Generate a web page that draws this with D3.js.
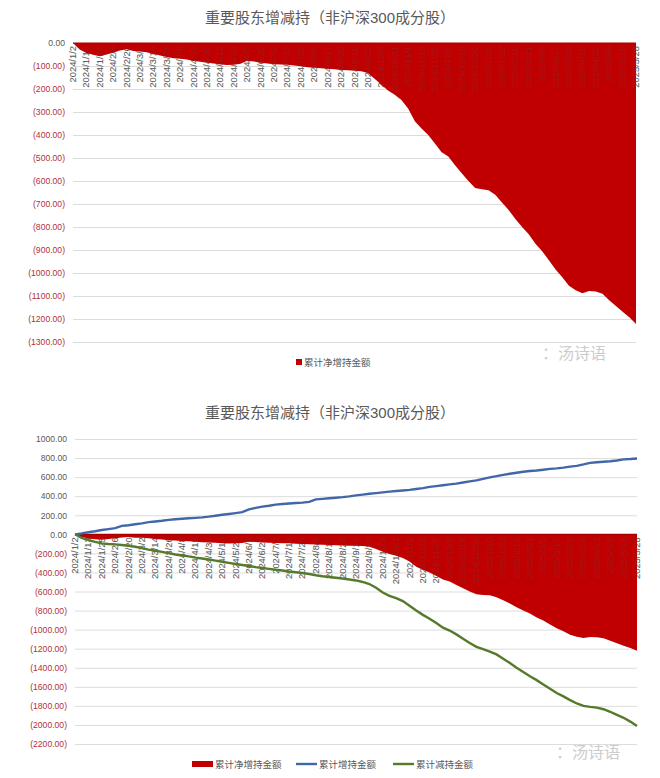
<!DOCTYPE html>
<html>
<head>
<meta charset="utf-8">
<script src="https://cdn.jsdelivr.net/npm/d3@7"></script>
<style>
html,body{margin:0;padding:0;background:#fff;}
svg{display:block;font-family:"Liberation Sans","Noto Sans CJK SC",sans-serif;}
</style>
</head>
<body>
<div id="chart"></div>
<script>
const chartTitle = "重要股东增减持（非沪深300成分股）";
const seriesNames = ["累计净增持金额", "累计增持金额", "累计减持金额"];
const dateLabels = [
  "2024/1/2","2024/1/13","2024/1/25","2024/2/6","2024/2/20","2024/3/2","2024/3/14","2024/3/26",
  "2024/4/8","2024/4/19","2024/4/30","2024/5/13","2024/5/24","2024/6/5","2024/6/20","2024/7/2",
  "2024/7/13","2024/7/25","2024/8/6","2024/8/17","2024/8/29","2024/9/10","2024/9/23","2024/10/9",
  "2024/10/21","2024/11/1","2024/11/13","2024/11/25","2024/12/6","2024/12/18","2024/12/30","2025/1/10",
  "2025/1/22","2025/2/10","2025/2/21","2025/3/5","2025/3/17","2025/3/28","2025/4/10","2025/4/22",
  "2025/5/6","2025/5/16","2025/5/28"
];
// cumulative net increase (亿元), one value per half label step
const netValues = [
  0,-28,-44,-51,-58,-50,-42,-33,-27,-35,-37,-40,-48,-54,-61,-66,-69,-72,-78,-82,
  -86,-89,-93,-96,-95,-90,-77,-80,-86,-89,-92,-93,-95,-98,-101,-105,-108,-110,-112,-114,
  -117,-119,-121,-123,-130,-155,-182,-206,-225,-248,-285,-340,-372,-400,-437,-475,-494,-532,-566,-600,
  -630,-636,-640,-660,-693,-726,-765,-800,-832,-873,-905,-945,-985,-1018,-1055,-1075,-1088,-1078,-1080,-1090,
  -1118,-1143,-1168,-1192,-1222
];
const increaseValues = [
  0,10,22,32,45,55,65,88,95,105,115,128,135,142,152,158,163,168,173,178,
  185,195,205,213,222,232,262,278,290,300,312,318,324,328,333,340,366,372,378,384,
  390,398,408,416,425,432,440,448,454,460,466,476,484,498,506,515,524,532,543,555,
  566,582,598,610,624,635,646,656,664,670,678,686,692,700,710,718,733,750,756,762,
  767,775,786,790,796
];
const decreaseValues = [
  0,-38,-62,-80,-95,-102,-106,-112,-120,-130,-145,-160,-172,-185,-198,-212,-222,-232,-244,-254,
  -264,-276,-288,-300,-312,-322,-332,-344,-354,-362,-372,-380,-390,-398,-406,-416,-430,-440,-448,-456,
  -464,-474,-484,-500,-522,-560,-610,-645,-670,-700,-750,-800,-845,-885,-930,-980,-1010,-1050,-1095,-1140,
  -1180,-1205,-1230,-1260,-1305,-1350,-1400,-1445,-1490,-1530,-1575,-1620,-1665,-1700,-1740,-1775,-1800,-1810,-1818,-1835,
  -1862,-1895,-1925,-1965,-2012
];
const topTicks = [0,-100,-200,-300,-400,-500,-600,-700,-800,-900,-1000,-1100,-1200,-1300];
const bottomTicks = [1000,800,600,400,200,0,-200,-400,-600,-800,-1000,-1200,-1400,-1600,-1800,-2000,-2200];
const watermark = "汤诗语";

const W = 660, H = 778;
const RED = "#c00000", BLUE = "#4068a8", GREEN = "#567a2c";
const GRID = "#dcdcdc", TXT = "#595959", NEG = "#b0303a";

const svg = d3.select("#chart").append("svg").attr("width", W).attr("height", H);

const fmt = v => v < 0 ? "(" + (-v).toFixed(2) + ")" : v.toFixed(2);

function drawChart(cfg) {
  const g = svg.append("g");
  const x = d3.scaleLinear().domain([0, netValues.length - 1]).range([cfg.x0, cfg.x1]);
  const y = d3.scaleLinear().domain(cfg.domain).range(cfg.yRange);

  g.append("text").attr("x", 330).attr("y", cfg.titleY).attr("text-anchor", "middle")
    .attr("font-size", 15).attr("fill", TXT).text(chartTitle);

  const ax = g.append("g").attr("transform", `translate(${cfg.x0},0)`)
    .call(d3.axisLeft(y).tickValues(cfg.ticks).tickSize(-(cfg.x1 - cfg.x0)).tickPadding(8).tickFormat(fmt));
  ax.select(".domain").remove();
  ax.selectAll(".tick line").attr("stroke", GRID).attr("stroke-width", 1);
  ax.selectAll(".tick text").attr("font-size", 8.6)
    .attr("font-family", "'Liberation Sans',sans-serif")
    .attr("fill", d => d < 0 ? NEG : TXT);

  const labelData = dateLabels.map((t, i) => ({t, i: i * 2}));
  function labels(layer, op, col) {
    layer.selectAll("text.xl").data(labelData).join("text")
      .attr("class", "xl")
      .attr("transform", d => `translate(${x(d.i) + 3},${y(0) + 3}) rotate(-90)`)
      .attr("text-anchor", "end").attr("font-size", 9.4).attr("fill", col)
      .attr("opacity", op).text(d => d.t);
  }
  labels(g.append("g"), 1, "#666666");

  const area = d3.area().x((d, i) => x(i)).y0(y(0)).y1(d => y(d));
  g.append("path").datum(netValues).attr("d", area).attr("fill", RED);
  g.append("line").attr("x1", cfg.x0).attr("x2", cfg.x1).attr("y1", y(0)).attr("y2", y(0))
    .attr("stroke", "#a80000").attr("stroke-width", 1.2);

  labels(g.append("g"), 0.25, "#555555");

  if (cfg.lines) {
    const line = d3.line().x((d, i) => x(i)).y(d => y(d));
    g.append("path").datum(increaseValues).attr("d", line).attr("fill", "none")
      .attr("stroke", BLUE).attr("stroke-width", 2.4);
    g.append("path").datum(decreaseValues).attr("d", line).attr("fill", "none")
      .attr("stroke", GREEN).attr("stroke-width", 2.4);
  }

  g.append("text").attr("x", cfg.wmX).attr("y", cfg.wmY).attr("font-size", 16)
    .attr("fill", "#cccccc").attr("font-family", "'Noto Sans CJK SC',sans-serif")
    .text("：" + watermark);
  return {x, y};
}

drawChart({x0: 73, x1: 636, domain: [-1300, 0], yRange: [342, 43], ticks: topTicks,
  titleY: 23, lines: false, wmX: 542, wmY: 359});
drawChart({x0: 75, x1: 637, domain: [-2200, 1000], yRange: [744, 439], ticks: bottomTicks,
  titleY: 418, lines: true, wmX: 556, wmY: 758});

const lg1 = svg.append("g").attr("font-size", 9.5).attr("fill", TXT);
lg1.append("rect").attr("x", 296).attr("y", 359).attr("width", 6).attr("height", 6).attr("fill", RED);
lg1.append("text").attr("x", 304).attr("y", 366).text(seriesNames[0]);

const lg2 = svg.append("g").attr("font-size", 9.5).attr("fill", TXT);
const items = [
  {name: seriesNames[0], type: "rect", color: RED, x: 192, tx: 215},
  {name: seriesNames[1], type: "line", color: BLUE, x: 296, tx: 319},
  {name: seriesNames[2], type: "line", color: GREEN, x: 393, tx: 416}
];
items.forEach(it => {
  if (it.type === "rect") {
    lg2.append("rect").attr("x", it.x).attr("y", 761).attr("width", 21).attr("height", 6).attr("fill", it.color);
  } else {
    lg2.append("line").attr("x1", it.x).attr("x2", it.x + 21).attr("y1", 764).attr("y2", 764)
      .attr("stroke", it.color).attr("stroke-width", 2.4);
  }
  lg2.append("text").attr("x", it.tx).attr("y", 767.5).text(it.name);
});
</script>
</body>
</html>
